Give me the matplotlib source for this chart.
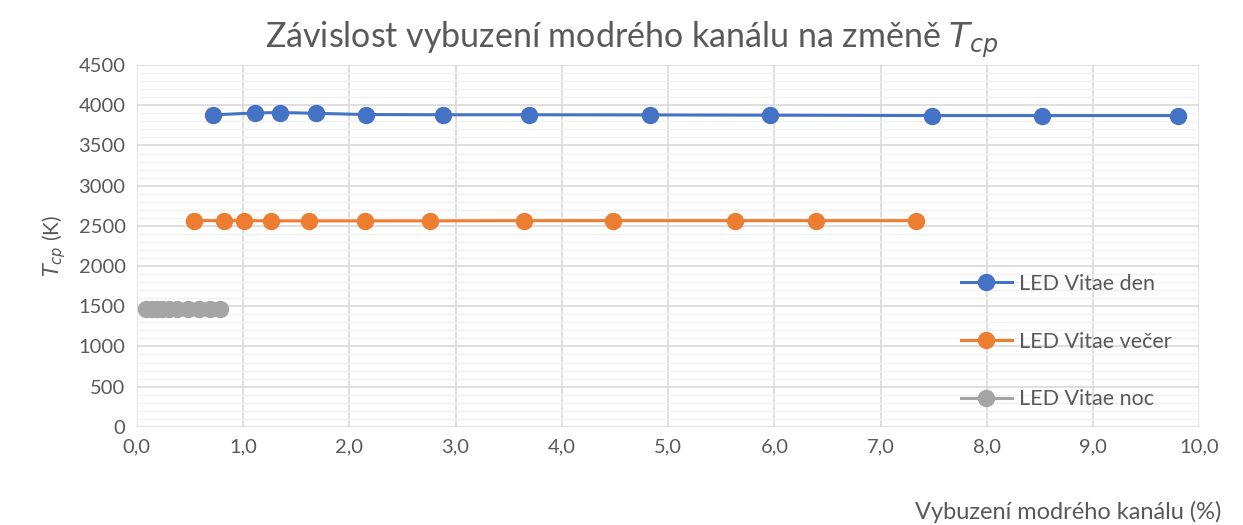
import numpy as np
import matplotlib.pyplot as plt
from matplotlib.ticker import MultipleLocator, FuncFormatter

plt.rcParams['font.family'] = ['Lato', 'DejaVu Sans']

# buzení modrého kanálu (%) a naměřené Tcp (K)
den_x = [0.72, 1.11, 1.35, 1.69, 2.16, 2.88, 3.69, 4.83, 5.96, 7.48, 8.52, 9.80]
den_y = [3880, 3905, 3910, 3900, 3885, 3882, 3882, 3880, 3877, 3872, 3872, 3872]

vecer_x = [0.54, 0.82, 1.01, 1.26, 1.62, 2.15, 2.76, 3.64, 4.48, 5.63, 6.39, 7.33]
vecer_y = [2565, 2565, 2565, 2562, 2562, 2562, 2562, 2565, 2565, 2565, 2565, 2565]

noc_x = [0.09, 0.14, 0.19, 0.24, 0.30, 0.38, 0.48, 0.59, 0.69, 0.78]
noc_y = [1465, 1465, 1465, 1465, 1465, 1465, 1465, 1465, 1465, 1465]

txt = '#595959'

fig = plt.figure(figsize=(12.43, 5.25), dpi=100)
ax = fig.add_axes([0.110, 0.187, 0.855, 0.689])

ax.plot(den_x, den_y, '-o', color='#4472C4', lw=2.2, ms=11.5, label='LED Vitae den', zorder=3)
ax.plot(vecer_x, vecer_y, '-o', color='#ED7D31', lw=2.2, ms=11.5, label='LED Vitae večer', zorder=3)
ax.plot(noc_x, noc_y, '-o', color='#A5A5A5', lw=2.2, ms=11.5, label='LED Vitae noc', zorder=3)

ax.set_xlim(0, 10)
ax.set_ylim(0, 4500)
ax.xaxis.set_major_locator(MultipleLocator(1))
ax.yaxis.set_major_locator(MultipleLocator(500))
ax.yaxis.set_minor_locator(MultipleLocator(100))
ax.xaxis.set_major_formatter(FuncFormatter(lambda v, p: f'{v:.1f}'.replace('.', ',')))

ax.grid(True, which='major', color='#d9d9d9', lw=1.2)
ax.grid(True, which='minor', axis='y', color='#f0f0f0', lw=1.0)
ax.set_axisbelow(True)
for s in ax.spines.values():
    s.set_visible(False)
ax.tick_params(which='both', length=0, labelsize=14.5, labelcolor=txt, pad=8)

# nadpis je centrovaný na celý graf, ne jen na oblast os
fig.text(0.508, 0.925, 'Závislost vybuzení modrého kanálu na změně $T_{cp}$',
         ha='center', va='center', fontsize=24.5, color=txt)
ax.set_ylabel('$T_{cp}$ (K)', fontsize=15, color=txt, labelpad=8)
fig.text(0.983, 0.025, 'Vybuzení modrého kanálu (%)', ha='right', va='center',
         fontsize=17, color=txt)

ax.legend(loc='upper left', bbox_to_anchor=(0.757, 0.476), frameon=False,
          fontsize=15.5, labelcolor=txt, labelspacing=1.75, handlelength=2.4,
          handletextpad=0.3)

fig.savefig('out.png', dpi=100)
